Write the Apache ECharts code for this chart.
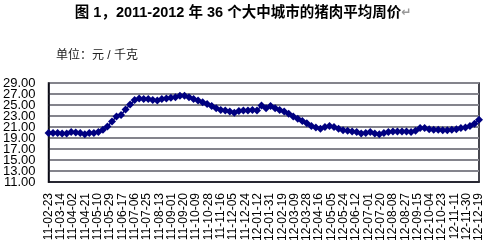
<!DOCTYPE html>
<html>
<head>
<meta charset="utf-8">
<script src="https://cdn.jsdelivr.net/npm/echarts@6/dist/echarts.min.js"></script>
<style>html,body{margin:0;padding:0;background:#fff;}#c{width:486px;height:247px;}</style>
</head>
<body>
<div id="c"></div>
<script>
const titleText = '图 1，2011-2012 年 36 个大中城市的猪肉平均周价';
const unitText = '单位：元 / 千克';
const startDate = '2011-02-23';
const endDate = '2012-12-19';
const tickStepDays = 19;
const yTicks = { min: 11, max: 29, step: 2 };

const dates = [
 '2011-02-23','2011-03-02','2011-03-09','2011-03-16','2011-03-23','2011-03-30','2011-04-06','2011-04-13',
 '2011-04-20','2011-04-27','2011-05-04','2011-05-11','2011-05-18','2011-05-25','2011-06-01','2011-06-08',
 '2011-06-15','2011-06-22','2011-06-29','2011-07-06','2011-07-13','2011-07-20','2011-07-27','2011-08-03',
 '2011-08-10','2011-08-17','2011-08-24','2011-08-31','2011-09-07','2011-09-14','2011-09-21','2011-09-28',
 '2011-10-05','2011-10-12','2011-10-19','2011-10-26','2011-11-02','2011-11-09','2011-11-16','2011-11-23',
 '2011-11-30','2011-12-07','2011-12-14','2011-12-21','2011-12-28','2012-01-04','2012-01-11','2012-01-18',
 '2012-01-25','2012-02-01','2012-02-08','2012-02-15','2012-02-22','2012-02-29','2012-03-07','2012-03-14',
 '2012-03-21','2012-03-28','2012-04-04','2012-04-11','2012-04-18','2012-04-25','2012-05-02','2012-05-09',
 '2012-05-16','2012-05-23','2012-05-30','2012-06-06','2012-06-13','2012-06-20','2012-06-27','2012-07-04',
 '2012-07-11','2012-07-18','2012-07-25','2012-08-01','2012-08-08','2012-08-15','2012-08-22','2012-08-29',
 '2012-09-05','2012-09-12','2012-09-19','2012-09-26','2012-10-03','2012-10-10','2012-10-17','2012-10-24',
 '2012-10-31','2012-11-07','2012-11-14','2012-11-21','2012-11-28','2012-12-05','2012-12-12','2012-12-19'
];
const prices = [
 19.9,19.9,19.9,19.8,19.8,20.1,20.0,19.9,
 19.7,19.9,19.9,20.1,20.5,21.1,22.0,22.9,
 23.2,24.2,25.1,25.9,26.2,26.1,26.1,25.9,
 25.8,26.1,26.2,26.3,26.4,26.7,26.7,26.4,
 26.1,25.8,25.5,25.2,24.8,24.4,24.1,24.0,
 23.8,23.6,23.9,24.0,24.0,24.1,24.0,24.9,
 24.4,24.8,24.4,24.1,23.8,23.4,22.9,22.5,
 22.1,21.7,21.2,20.9,20.7,21.0,21.2,21.0,
 20.7,20.4,20.3,20.2,20.1,19.8,19.9,20.1,
 19.8,19.7,19.9,20.1,20.2,20.2,20.2,20.2,
 20.1,20.3,20.8,20.8,20.6,20.5,20.5,20.4,
 20.4,20.5,20.6,20.8,20.9,21.2,21.6,22.3
];

const DAY = 86400000;
function toUTC(s){ const p = s.split('-').map(Number); return Date.UTC(p[0], p[1]-1, p[2]); }
const t0 = toUTC(startDate);
const span = Math.round((toUTC(endDate) - t0) / DAY);
const seriesData = dates.map((d, i) => [Math.round((toUTC(d) - t0) / DAY), prices[i]]);
function pad(n){ return (n < 10 ? '0' : '') + n; }
function fmtDay(v){
  const d = new Date(t0 + v * DAY);
  return pad(d.getUTCFullYear() % 100) + '-' + pad(d.getUTCMonth() + 1) + '-' + pad(d.getUTCDate());
}
// two overlaid label sets so that closely packed y labels are all kept
function yFmt(parity){
  return v => (Math.round((v - yTicks.min) / yTicks.step) % 2 === parity) ? v.toFixed(2) : '';
}
const yLabelBase = {
  margin: 13, fontSize: 13, color: '#000',
  fontFamily: 'Liberation Sans, Arial, sans-serif', hideOverlap: false
};

const chart = echarts.init(document.getElementById('c'), null, { renderer: 'canvas' });
chart.setOption({
  animation: false,
  backgroundColor: '#fff',
  title: [{
    text: '{t|' + titleText + '}{p|↵}',
    left: 'center',
    top: 1,
    textStyle: {
      rich: {
        t: { fontSize: 14.5, fontWeight: 'bold', color: '#000', fontFamily: 'Liberation Sans, Arial, "Noto Sans CJK SC", sans-serif' },
        p: { fontSize: 12, color: '#999', fontFamily: 'DejaVu Sans, sans-serif' }
      }
    }
  }, {
    text: unitText,
    left: 51,
    top: 45,
    textStyle: { fontSize: 12, fontWeight: 'normal', color: '#222', fontFamily: 'Liberation Sans, "Noto Sans CJK SC", sans-serif' }
  }],
  grid: {
    left: 45, right: 7, top: 83, bottom: 65,
    show: true, borderColor: '#0a0a14', borderWidth: 1.5
  },
  xAxis: {
    type: 'value',
    min: 0, max: span, interval: tickStepDays,
    axisLine: { show: true, onZero: false, lineStyle: { color: '#0a0a14', width: 1.5 } },
    axisTick: { show: false },
    splitLine: { show: false },
    axisLabel: {
      rotate: 90, margin: 11, fontSize: 12, color: '#000',
      fontFamily: 'Liberation Sans, Arial, sans-serif',
      formatter: fmtDay, showMaxLabel: true, showMinLabel: true, hideOverlap: false
    }
  },
  yAxis: [{
    type: 'value', position: 'left',
    min: yTicks.min, max: yTicks.max, interval: yTicks.step,
    axisLine: { show: true, onZero: false, lineStyle: { color: '#0a0a14', width: 1.5 } },
    axisTick: { show: false },
    splitLine: { show: true, lineStyle: { color: '#84848c', width: 2 } },
    axisLabel: Object.assign({}, yLabelBase, { showMinLabel: true, showMaxLabel: false, formatter: yFmt(0) })
  }, {
    type: 'value', position: 'left', offset: 0,
    min: yTicks.min, max: yTicks.max, interval: yTicks.step,
    axisLine: { show: false },
    axisTick: { show: false },
    splitLine: { show: false },
    axisLabel: Object.assign({}, yLabelBase, { showMinLabel: false, showMaxLabel: true, formatter: yFmt(1) })
  }],
  series: [{
    type: 'line',
    yAxisIndex: 0,
    data: seriesData,
    symbol: 'diamond',
    symbolSize: 8,
    showAllSymbol: true,
    clip: false,
    z: 5,
    lineStyle: { color: '#000080', width: 1.5 },
    itemStyle: { color: '#000080' }
  }]
});
</script>
</body>
</html>
